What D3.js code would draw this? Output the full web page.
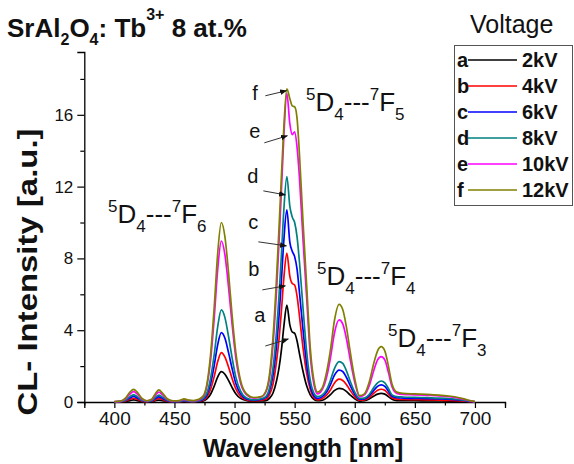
<!DOCTYPE html>
<html>
<head>
<meta charset="utf-8">
<script src="https://cdn.jsdelivr.net/npm/d3@7"></script>
<style>
  body { margin: 0; background: #fff; }
  svg { font-family: "Liberation Sans", Arial, sans-serif; }
</style>
</head>
<body>
<svg id="contenedor"></svg>
<script>
// longitudes de onda (nm)
let wavelengths = [400,405,409,413,416,419,423,427,431,434,437,440,444,449,454,458,462,466,470,
  474,477,480,483,486,489,492,495,498,501,505,510,516,
  522,526,529,532,535,537,539,541,543.5,
  546,548,550,552,554,557,560,563,566,569,573,
  577,580,583,587,590,593,596,600,
  604,608,612,616,619,622,625,628,631,635,
  640,650,660,670,680,686,692,697,700];

// intensidades por voltaje
let serieA = [0,0.01,0.03,0.08,0.12,0.08,0.03,0.01,0.02,0.07,0.11,0.08,0.03,0.01,0.01,0.03,0.02,0.01,0.02,
  0.06,0.17,0.43,0.87,1.4,1.69,1.55,1.2,0.8,0.46,0.2,0.08,0.04,
  0.06,0.08,0.2,0.5,1.2,1.9,2.9,4.2,5.4,
  4.3,3.9,3.83,3.4,2.7,1.7,0.9,0.4,0.15,0.07,0.1,
  0.25,0.42,0.63,0.76,0.72,0.59,0.4,0.18,
  0.05,0.07,0.17,0.34,0.44,0.48,0.44,0.3,0.15,0.08,
  0.07,0.07,0.06,0.06,0.05,0.04,0.03,0.01,0];
let serieB = [0.01,0.02,0.05,0.15,0.21,0.15,0.05,0.02,0.04,0.12,0.2,0.14,0.05,0.02,0.02,0.05,0.03,0.02,0.04,
  0.1,0.28,0.7,1.4,2.25,2.75,2.5,1.95,1.3,0.75,0.32,0.12,0.07,
  0.1,0.15,0.4,1.0,2.3,3.5,5.1,6.9,8.29,
  7.0,6.6,6.52,5.9,4.8,3.0,1.6,0.7,0.25,0.12,0.2,
  0.42,0.7,1.05,1.27,1.2,0.98,0.67,0.3,
  0.1,0.12,0.25,0.5,0.65,0.71,0.65,0.45,0.24,0.16,
  0.14,0.13,0.12,0.11,0.09,0.07,0.05,0.02,0.01];
let serieC = [0.01,0.02,0.08,0.23,0.31,0.23,0.08,0.03,0.06,0.19,0.29,0.21,0.07,0.02,0.03,0.07,0.04,0.03,0.06,
  0.15,0.4,1.0,2.0,3.2,3.86,3.55,2.75,1.85,1.05,0.45,0.17,0.1,
  0.14,0.24,0.6,1.5,3.2,4.8,6.8,9.0,10.7,
  8.9,8.4,8.1,7.4,6.1,4.0,2.1,0.9,0.35,0.2,0.3,
  0.6,1.0,1.48,1.78,1.7,1.38,0.95,0.43,
  0.15,0.17,0.34,0.66,0.87,0.95,0.87,0.6,0.32,0.24,
  0.22,0.2,0.19,0.17,0.14,0.11,0.07,0.03,0.01];
let serieD = [0.01,0.03,0.1,0.3,0.4,0.3,0.1,0.04,0.08,0.25,0.38,0.28,0.1,0.03,0.04,0.09,0.05,0.04,0.08,
  0.2,0.5,1.3,2.6,4.2,5.13,4.7,3.65,2.45,1.4,0.6,0.22,0.12,
  0.18,0.3,0.75,1.9,4.0,5.9,8.2,10.7,12.56,
  10.9,10.3,10.0,9.2,7.8,5.2,2.8,1.2,0.5,0.3,0.4,
  0.75,1.25,1.85,2.25,2.15,1.75,1.2,0.55,
  0.2,0.22,0.42,0.82,1.07,1.17,1.07,0.75,0.4,0.3,
  0.28,0.26,0.24,0.22,0.18,0.14,0.09,0.04,0.01];
let serieE = [0.02,0.04,0.16,0.45,0.58,0.45,0.16,0.06,0.12,0.37,0.55,0.41,0.15,0.05,0.07,0.14,0.08,0.07,0.12,
  0.3,0.9,2.3,4.6,7.4,8.97,8.2,6.4,4.3,2.5,1.05,0.4,0.22,
  0.28,0.55,1.3,3.2,6.3,8.9,11.8,14.8,17.2,
  15.5,14.9,15.05,14.2,12.5,9.0,5.8,2.6,1.0,0.45,0.7,
  1.5,2.55,3.8,4.57,4.35,3.55,2.45,1.1,
  0.3,0.4,0.9,1.8,2.35,2.53,2.35,1.65,0.85,0.48,
  0.42,0.4,0.37,0.34,0.28,0.22,0.13,0.05,0.02];
let serieF = [0.02,0.05,0.2,0.55,0.7,0.55,0.2,0.07,0.15,0.45,0.67,0.5,0.18,0.06,0.08,0.17,0.1,0.08,0.15,
  0.35,1.0,2.6,5.2,8.3,10.0,9.2,7.2,4.8,2.8,1.2,0.45,0.25,
  0.3,0.6,1.5,3.6,7.0,9.7,12.6,15.3,17.45,
  16.9,16.5,16.45,15.8,13.8,10.0,6.5,3.0,1.2,0.55,0.8,
  1.8,3.0,4.5,5.44,5.15,4.2,2.9,1.3,
  0.35,0.45,1.1,2.2,2.85,3.08,2.85,2.0,1.0,0.55,
  0.48,0.45,0.42,0.38,0.32,0.25,0.15,0.06,0.02];

// leyenda
let letras = ["a", "b", "c", "d", "e", "f"];
let voltajes = ["2kV", "4kV", "6kV", "8kV", "10kV", "12kV"];
let colores = ["#000000", "#ff0000", "#0000ff", "#008080", "#ff00ff", "#808000"];

// ticks
let xTicks = d3.range(375, 726, 25);
let yTicks = d3.range(0, 19, 2);

// flechas: punta en unidades de datos
let flechaLambda = [544.75, 542.25, 543.1, 542.25, 543.9, 543.1];
let flechaValor = [3.51, 6.47, 8.7, 11.54, 14.83, 17.34];

let series = [serieA, serieB, serieC, serieD, serieE, serieF];

function getConfig() {
  let width = 574;
  let height = 464;
  let margin = { top: 52, bottom: 62, left: 84.3, right: 69 };
  let bodyWidth = width - margin.left - margin.right;
  let bodyHeight = height - margin.top - margin.bottom;
  let container = d3.select("#contenedor").attr("width", width).attr("height", height);
  return { width, height, margin, bodyWidth, bodyHeight, container };
}

function getScales(config) {
  let { margin, bodyWidth, bodyHeight } = config;
  let xScale = d3.scaleLinear().domain([375, 725]).range([margin.left, margin.left + bodyWidth]);
  let yScale = d3.scaleLinear().domain([0, 19.5]).range([margin.top + bodyHeight, margin.top]);
  return { xScale, yScale };
}

function dibujarEjes(scales, config) {
  let { xScale, yScale } = scales;
  let { container, margin, bodyHeight } = config;

  let axisX = d3.axisBottom(xScale)
    .tickValues(xTicks)
    .tickSizeOuter(0)
    .tickSize(6)
    .tickPadding(4)
    .tickFormat((d) => (d % 50 === 0 ? d : ""));
  let gx = container.append("g")
    .attr("transform", `translate(0,${margin.top + bodyHeight})`)
    .call(axisX);
  gx.selectAll(".tick line").attr("y2", (d) => (d % 50 === 0 ? 6 : 3.5));
  gx.selectAll("text").attr("font-size", "19px").attr("font-family", "Liberation Sans, Arial").attr("fill", "#111");

  let axisY = d3.axisLeft(yScale)
    .tickValues(yTicks)
    .tickSizeOuter(0)
    .tickSize(7)
    .tickPadding(4)
    .tickFormat((d) => (d % 4 === 0 ? d : ""));
  let gy = container.append("g")
    .attr("transform", `translate(${margin.left},0)`)
    .call(axisY);
  gy.selectAll(".tick line").attr("x2", (d) => (d % 4 === 0 ? -7 : -4));
  gy.selectAll("text").attr("font-size", "17px").attr("font-family", "Liberation Sans, Arial").attr("fill", "#111");

  container.selectAll(".domain").attr("stroke-width", 1.3);
  container.selectAll(".tick line").attr("stroke-width", 1.2);
}

function dibujarLineas(scales, config) {
  let { xScale, yScale } = scales;
  let linea = d3.line()
    .x((d) => xScale(d[0]))
    .y((d) => yScale(d[1]))
    .curve(d3.curveMonotoneX);

  config.container.append("g")
    .selectAll("path")
    .data(series)
    .enter()
    .append("path")
    .attr("d", (s) => linea(wavelengths.map((w, i) => [w, s[i]])))
    .attr("fill", "none")
    .attr("stroke", (s, i) => colores[i])
    .attr("stroke-width", 1.7)
    .attr("stroke-linejoin", "round");
}

// texto con super y subindices
function textoTransicion(container, x, y, sub1, sup2, sub2) {
  let t = container.append("text").attr("x", x).attr("y", y).attr("font-size", "26px").attr("fill", "#111");
  t.append("tspan").attr("font-size", "17px").attr("dy", -11).text("5");
  t.append("tspan").attr("dy", 11).text("D");
  t.append("tspan").attr("font-size", "17px").attr("dy", 9).text(sub1);
  t.append("tspan").attr("dy", -9).text("---");
  t.append("tspan").attr("font-size", "17px").attr("dy", -11).text(sup2);
  t.append("tspan").attr("dy", 11).text("F");
  t.append("tspan").attr("font-size", "17px").attr("dy", 9).text(sub2);
}

function dibujarTextos(scales, config) {
  let { xScale, yScale } = scales;
  let { container } = config;

  // titulo
  let titulo = container.append("text").attr("x", 7).attr("y", 37)
    .attr("font-size", "26px").attr("font-weight", "bold").attr("fill", "#111");
  titulo.append("tspan").text("SrAl");
  titulo.append("tspan").attr("font-size", "16px").attr("dy", 8).text("2");
  titulo.append("tspan").attr("dy", -8).text("O");
  titulo.append("tspan").attr("font-size", "16px").attr("dy", 8).text("4");
  titulo.append("tspan").attr("dy", -8).text(": Tb");
  titulo.append("tspan").attr("font-size", "16px").attr("dy", -17).text("3+");
  titulo.append("tspan").attr("dy", 17).text(" 8 at.%");

  // etiquetas de ejes
  container.append("text")
    .attr("x", 303).attr("y", 457)
    .attr("text-anchor", "middle")
    .attr("font-size", "25px").attr("font-weight", "bold").attr("fill", "#111")
    .text("Wavelength [nm]");
  container.append("text")
    .attr("transform", "translate(37,272) rotate(-90)")
    .attr("text-anchor", "middle")
    .attr("font-size", "28px").attr("font-weight", "bold").attr("fill", "#111")
    .attr("textLength", 287).attr("lengthAdjust", "spacingAndGlyphs")
    .text("CL- Intensity [a.u.]");

  // transiciones
  textoTransicion(container, 108, 223, "4", "7", "6");
  textoTransicion(container, 306, 111, "4", "7", "5");
  textoTransicion(container, 317, 285, "4", "7", "4");
  textoTransicion(container, 388, 347, "4", "7", "3");

  // flechas con letras
  let defs = container.append("defs");
  defs.append("marker")
    .attr("id", "punta")
    .attr("viewBox", "0 0 10 10")
    .attr("refX", 9).attr("refY", 5)
    .attr("markerWidth", 7).attr("markerHeight", 7)
    .attr("orient", "auto")
    .append("path").attr("d", "M0,1 L10,5 L0,9 z").attr("fill", "#111");

  let colas = [[-23, 7], [-23, 4], [-28, -4], [-22, -4], [-23, 7], [-21, 5]];
  let posLetras = [[-34, -17], [-37, -10], [-38, -17], [-38, -12], [-38, 2], [-34, 9]];
  letras.forEach((l, i) => {
    let px = xScale(flechaLambda[i]);
    let py = yScale(flechaValor[i]);
    container.append("line")
      .attr("x1", px + colas[i][0]).attr("y1", py + colas[i][1])
      .attr("x2", px).attr("y2", py)
      .attr("stroke", "#333").attr("stroke-width", 1)
      .attr("marker-end", "url(#punta)");
    container.append("text")
      .attr("x", px + posLetras[i][0]).attr("y", py + posLetras[i][1])
      .attr("font-size", "20px").attr("fill", "#111")
      .text(l);
  });
}

function dibujarLeyenda(config) {
  let { container } = config;
  container.append("text").attr("x", 470).attr("y", 33)
    .attr("font-size", "25px").attr("fill", "#111").text("Voltage");
  container.append("rect")
    .attr("x", 454.5).attr("y", 45.5).attr("width", 118).attr("height", 160)
    .attr("fill", "none").attr("stroke", "#555").attr("stroke-width", 1);

  let filas = container.append("g").selectAll("g").data(letras).enter().append("g")
    .attr("transform", (d, i) => `translate(0,${60 + i * 26})`);
  filas.append("text").attr("x", 457).attr("y", 7)
    .attr("font-size", "20px").attr("font-weight", "bold").attr("fill", "#111")
    .text((d) => d);
  filas.append("line").attr("x1", 468).attr("x2", 517).attr("y1", 0).attr("y2", 0)
    .attr("stroke", (d, i) => colores[i]).attr("stroke-width", 1.7);
  filas.append("text").attr("x", 522).attr("y", 7)
    .attr("font-size", "20px").attr("font-weight", "bold").attr("fill", "#111")
    .text((d, i) => voltajes[i]);
}

function dibujarChart() {
  let config = getConfig();
  let scales = getScales(config);
  dibujarEjes(scales, config);
  dibujarLineas(scales, config);
  dibujarTextos(scales, config);
  dibujarLeyenda(config);
}

dibujarChart();
</script>
</body>
</html>
